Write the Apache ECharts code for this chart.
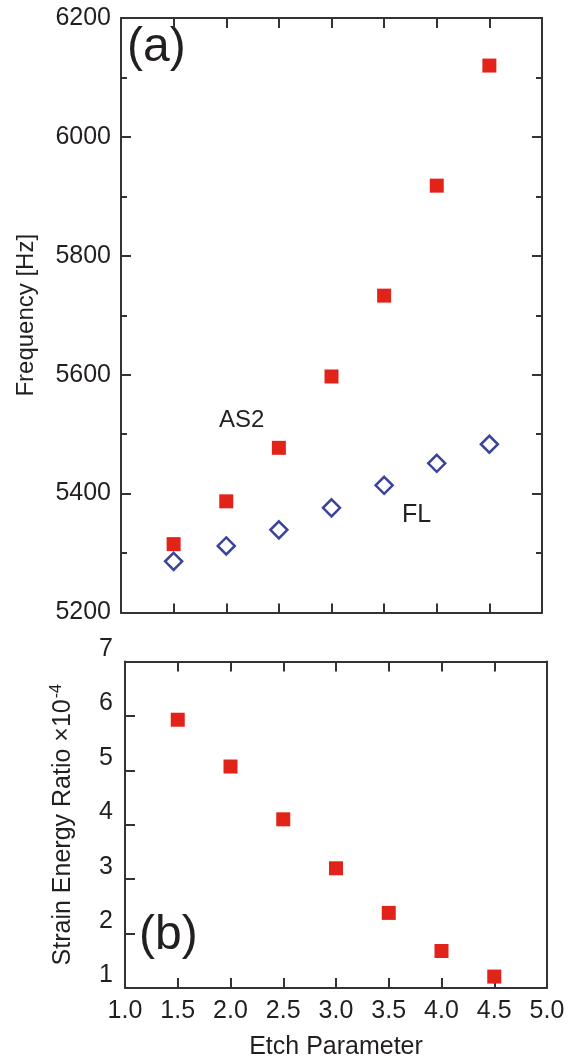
<!DOCTYPE html>
<html>
<head>
<meta charset="utf-8">
<title>Frequency and strain energy ratio vs etch parameter</title>
<script src="https://cdn.jsdelivr.net/npm/echarts@6/dist/echarts.min.js"></script>
<style>
  html, body { margin: 0; padding: 0; background: #ffffff; }
  #chart { width: 574px; height: 1061px; }
</style>
</head>
<body>
<div id="chart"></div>
<script>
// Etch parameter values shared by both panels
const etchParameter = [1.5, 2.0, 2.5, 3.0, 3.5, 4.0, 4.5];

// Panel (a): resonance frequencies [Hz]
const freqAS2 = [5315, 5387, 5477, 5597, 5733, 5918, 6120];
const freqFL = [5286, 5312, 5339, 5376, 5414, 5451, 5483];

// Panel (b): strain energy ratio (x 1e-4)
const strainRatio = [5.93, 5.07, 4.10, 3.20, 2.38, 1.68, 1.21];

// Axis tick labels
const xTickLabels = ['1.0', '1.5', '2.0', '2.5', '3.0', '3.5', '4.0', '4.5', '5.0'];

const FONT = '"Liberation Sans", Arial, Helvetica, sans-serif';
const INK = '#231f20';
const FRAME = '#333333';
const RED = '#e2231a';
const BLUE = '#3b449b';

const pairs = (xs, ys) => xs.map((x, i) => [x, ys[i]]);

const frameLine = { show: true, lineStyle: { color: FRAME, width: 2 } };
const tickStyle = (len) => ({ show: true, inside: true, length: len, lineStyle: { color: FRAME, width: 2 } });

const chart = echarts.init(document.getElementById('chart'), null, { renderer: 'canvas' });

chart.setOption({
  backgroundColor: '#ffffff',
  animation: false,
  textStyle: { fontFamily: FONT, color: INK },
  grid: [
    { left: 121, top: 18, width: 421, height: 594.5 },
    { left: 125, top: 661.5, width: 422, height: 328.5 }
  ],
  xAxis: [
    { // panel (a) bottom
      gridIndex: 0, type: 'value', min: 1, max: 5, interval: 0.5, position: 'bottom',
      axisLine: frameLine, axisTick: tickStyle(9), axisLabel: { show: false },
      splitLine: { show: false }
    },
    { // panel (a) top
      gridIndex: 0, type: 'value', min: 1, max: 5, interval: 0.5, position: 'top',
      axisLine: frameLine, axisTick: tickStyle(10), axisLabel: { show: false },
      splitLine: { show: false }
    },
    { // panel (b) bottom
      gridIndex: 1, type: 'value', min: 1, max: 5, interval: 0.5, position: 'bottom',
      axisLine: frameLine, axisTick: tickStyle(10),
      axisLabel: {
        margin: 11, fontSize: 25, color: INK, fontFamily: FONT,
        formatter: (v) => xTickLabels[Math.round((v - 1) / 0.5)]
      },
      splitLine: { show: false },
      name: 'Etch Parameter', nameLocation: 'middle', nameGap: 47,
      nameTextStyle: { fontSize: 25, color: INK, fontFamily: FONT }
    },
    { // panel (b) top
      gridIndex: 1, type: 'value', min: 1, max: 5, interval: 0.5, position: 'top',
      axisLine: frameLine, axisTick: tickStyle(10), axisLabel: { show: false },
      splitLine: { show: false }
    }
  ],
  yAxis: [
    { // panel (a) left
      gridIndex: 0, type: 'value', min: 5200, max: 6200, interval: 200, position: 'left',
      axisLine: frameLine, axisTick: tickStyle(10),
      minorTick: { show: true, splitNumber: 2, length: 6, lineStyle: { color: FRAME, width: 2 } },
      axisLabel: { margin: 10, fontSize: 25, color: INK, fontFamily: FONT, formatter: (v) => String(v) },
      splitLine: { show: false },
      name: 'Frequency [Hz]', nameLocation: 'middle', nameRotate: 90, nameGap: 83,
      nameTextStyle: { fontSize: 24, color: INK, fontFamily: FONT }
    },
    { // panel (a) right
      gridIndex: 0, type: 'value', min: 5200, max: 6200, interval: 200, position: 'right',
      axisLine: frameLine, axisTick: tickStyle(10),
      minorTick: { show: true, splitNumber: 2, length: 6, lineStyle: { color: FRAME, width: 2 } },
      axisLabel: { show: false }, splitLine: { show: false }
    },
    { // panel (b) left
      gridIndex: 1, type: 'value', min: 1, max: 7, interval: 1, position: 'left',
      axisLine: frameLine, axisTick: tickStyle(10),
      axisLabel: { margin: 12, fontSize: 25, color: INK, fontFamily: FONT, verticalAlign: 'bottom' },
      splitLine: { show: false },
      name: 'Strain Energy Ratio ×10{sup|-4}', nameLocation: 'middle', nameRotate: 90, nameGap: 48,
      nameTextStyle: {
        fontSize: 25, color: INK, fontFamily: FONT,
        rich: { sup: { fontSize: 16, color: INK, fontFamily: FONT, verticalAlign: 'top', padding: [0, 0, 12, 1] } }
      }
    },
    { // panel (b) right
      gridIndex: 1, type: 'value', min: 1, max: 7, interval: 1, position: 'right',
      axisLine: frameLine, axisTick: { show: false },
      axisLabel: { show: false }, splitLine: { show: false }
    }
  ],
  series: [
    {
      name: 'AS2', type: 'scatter', xAxisIndex: 0, yAxisIndex: 0,
      data: pairs(etchParameter, freqAS2),
      symbol: 'rect', symbolSize: 14,
      itemStyle: { color: RED, opacity: 1 }
    },
    {
      name: 'FL', type: 'scatter', xAxisIndex: 0, yAxisIndex: 0,
      data: pairs(etchParameter, freqFL),
      symbol: 'diamond', symbolSize: 17,
      itemStyle: { color: '#ffffff', borderColor: BLUE, borderWidth: 2.5, opacity: 1 }
    },
    {
      name: 'Strain energy ratio', type: 'scatter', xAxisIndex: 2, yAxisIndex: 2,
      data: pairs(etchParameter, strainRatio),
      symbol: 'rect', symbolSize: 14,
      itemStyle: { color: RED, opacity: 1 }
    }
  ],
  graphic: [
    { type: 'text', left: 127, top: 24, style: { text: '(a)', font: '48px ' + FONT, fill: INK } },
    { type: 'text', left: 219, top: 408, style: { text: 'AS2', font: '24px ' + FONT, fill: INK } },
    { type: 'text', left: 402, top: 503, style: { text: 'FL', font: '25px ' + FONT, fill: INK } },
    { type: 'text', left: 139, top: 912, style: { text: '(b)', font: '48px ' + FONT, fill: INK } }
  ]
});
</script>
</body>
</html>
